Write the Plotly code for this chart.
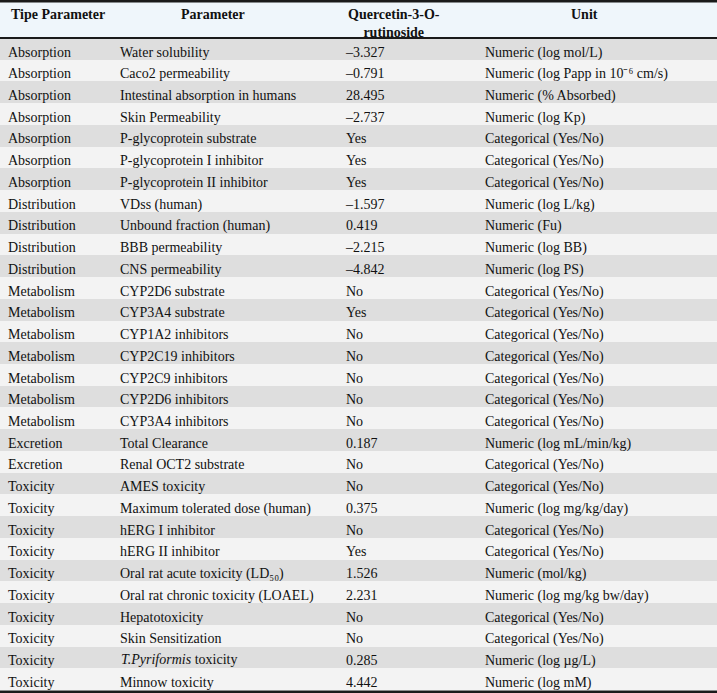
import plotly.graph_objects as go

# table data
tipe = ["Absorption"] * 7 + ["Distribution"] * 4 + ["Metabolism"] * 7 + \
       ["Excretion"] * 2 + ["Toxicity"] * 10

parameter = [
    "Water solubility", "Caco2 permeability", "Intestinal absorption in humans",
    "Skin Permeability", "P-glycoprotein substrate", "P-glycoprotein I inhibitor",
    "P-glycoprotein II inhibitor",
    "VDss (human)", "Unbound fraction (human)", "BBB permeability", "CNS permeability",
    "CYP2D6 substrate", "CYP3A4 substrate", "CYP1A2 inhibitors", "CYP2C19 inhibitors",
    "CYP2C9 inhibitors", "CYP2D6 inhibitors", "CYP3A4 inhibitors",
    "Total Clearance", "Renal OCT2 substrate",
    "AMES toxicity", "Maximum tolerated dose (human)", "hERG I inhibitor",
    "hERG II inhibitor", "Oral rat acute toxicity (LD₅₀)",
    "Oral rat chronic toxicity (LOAEL)", "Hepatotoxicity", "Skin Sensitization",
    "<i>T.Pyriformis</i> toxicity", "Minnow toxicity",
]

values = [
    "–3.327", "–0.791", "28.495", "–2.737", "Yes", "Yes", "Yes",
    "–1.597", "0.419", "–2.215", "–4.842",
    "No", "Yes", "No", "No", "No", "No", "No",
    "0.187", "No",
    "No", "0.375", "No", "Yes", "1.526", "2.231", "No", "No", "0.285", "4.442",
]

cat = "Categorical (Yes/No)"
unit = [
    "Numeric (log mol/L)", "Numeric (log Papp in 10⁻⁶ cm/s)",
    "Numeric (% Absorbed)", "Numeric (log Kp)", cat, cat, cat,
    "Numeric (log L/kg)", "Numeric (Fu)", "Numeric (log BB)", "Numeric (log PS)",
    cat, cat, cat, cat, cat, cat, cat,
    "Numeric (log mL/min/kg)", cat,
    cat, "Numeric (log mg/kg/day)", cat, cat, "Numeric (mol/kg)",
    "Numeric (log mg/kg bw/day)", cat, cat, "Numeric (log µg/L)", "Numeric (log mM)",
]

headers = ["Tipe Parameter", "Parameter", "Quercetin-3-O-<br>rutinoside", "Unit"]

col_w = [112, 226, 139, 240]
head_shift = [2, -12, -14, -13]   # header text sits a little left of centre

W, H = 717, 693
HEAD_H = 38
ROW_H = (H - HEAD_H - 3) / len(tipe)
FONT = "Liberation Serif"

row_fill = ["#dedede" if i % 2 == 0 else "#f3f3f3" for i in range(len(tipe))]

# cells with markup make plotly grow the row, so those go on top as annotations
param_cells = ["" if "<" in p else p for p in parameter]

fig = go.Figure(go.Table(
    columnwidth=col_w,
    header=dict(
        values=[""] * 4,
        height=HEAD_H,
        fill_color="#eff6fb",
        line_width=0,
        font=dict(family=FONT, size=14),
    ),
    cells=dict(
        values=[tipe, param_cells, values, unit],
        align="left",
        height=ROW_H,
        fill_color=[row_fill] * 4,
        line_width=0,
        font=dict(family=FONT, size=14, color="#111111"),
    ),
    domain=dict(x=[0, 1], y=[0, 1]),
))

for i, p in enumerate(parameter):
    if "<" in p:
        yc = HEAD_H + (i + 0.5) * ROW_H + 2
        fig.add_annotation(
            x=(col_w[0] + 7) / W, y=1 - yc / H, xref="paper", yref="paper",
            xanchor="left", yanchor="middle", showarrow=False, text=p,
            font=dict(family=FONT, size=14, color="#111111"),
        )

# header labels
x0 = 0
for txt, w, s in zip(headers, col_w, head_shift):
    fig.add_annotation(
        x=(x0 + w / 2 + s) / W, y=1 - 5 / H, xref="paper", yref="paper",
        xanchor="center", yanchor="top", showarrow=False, align="center",
        text="<b>" + txt + "</b>",
        font=dict(family=FONT, size=14, color="#111111"),
    )
    x0 += w

# horizontal rules
y_head = 1 - HEAD_H / H
fig.add_shape(type="line", xref="paper", yref="paper", x0=0, x1=1, y0=1, y1=1,
              line=dict(color="#1a1a1a", width=5))
fig.add_shape(type="line", xref="paper", yref="paper", x0=0, x1=1, y0=y_head, y1=y_head,
              line=dict(color="#1a1a1a", width=2))
fig.add_shape(type="line", xref="paper", yref="paper", x0=0, x1=1, y0=0, y1=0,
              line=dict(color="#1a1a1a", width=5))

fig.update_layout(
    width=W, height=H,
    margin=dict(l=0, r=0, t=0, b=0),
    paper_bgcolor="white",
)

fig.write_html("out.html", config={"displayModeBar": False},
               post_script="document.body.style.margin='0';document.body.style.overflow='hidden';")
